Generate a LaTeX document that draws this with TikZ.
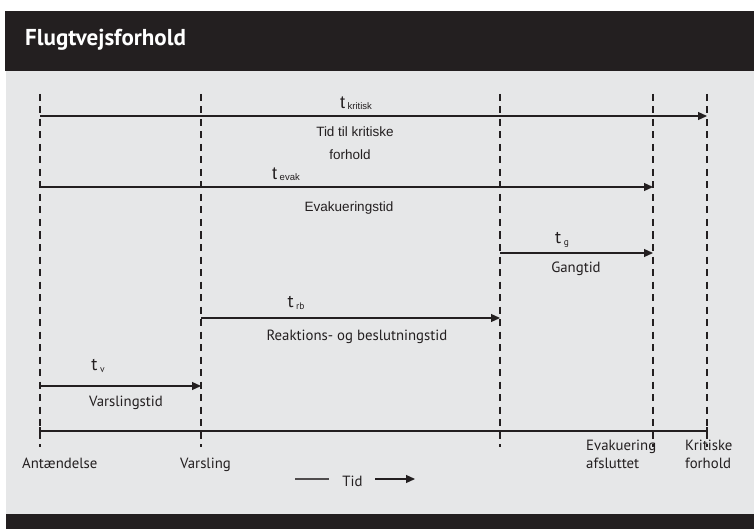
\documentclass[tikz,border=0pt]{standalone}
\usepackage{fontspec}
\setmainfont{Liberation Sans}
\newfontfamily\fru{PT Sans}
\usetikzlibrary{arrows.meta}
\definecolor{ink}{HTML}{231F20}
\definecolor{bg}{HTML}{E6E7E8}
\tikzset{
  dashline/.style={draw=ink, line width=2pt, dash pattern=on 7pt off 5.5pt},
  arr/.style={draw=ink, line width=1.2pt, -{Triangle[length=9pt,width=8pt]}},
  axisline/.style={draw=ink, line width=2pt},
  lbl/.style={inner sep=0pt, text=ink, font=\fontsize{13.5}{16}\selectfont},
  flbl/.style={inner sep=0pt, text=ink, font=\fru\fontsize{14.8}{17}\selectfont},
  tlbl/.style={inner sep=0pt, text=ink},
  endlbl/.style={inner sep=0pt, text=ink, anchor=base west, align=left, font=\fru\fontsize{14.8}{18.5}\selectfont},
}
\newcommand{\tsub}[2]{{\fontsize{18}{18}\selectfont t}\hspace{2.5pt}\raisebox{-1.5pt}{\fontsize{#2}{9}\selectfont #1}}
\begin{document}
\begin{tikzpicture}[x=1pt,y=-1pt]
\useasboundingbox (0,0) rectangle (754,529);
\fill[white] (0,0) rectangle (754,529);
\fill[ink] (5,11) rectangle (754,71);
\fill[bg] (6,71) rectangle (754,514);
\fill[ink] (6,514) rectangle (754,529);
\node[anchor=base west, inner sep=0pt, text=white, font=\fru\bfseries\fontsize{23}{28}\selectfont] (title) at (25,46) {Flugtvejsforhold};

% dashed event lines
\foreach \n/\x in {a/40,b/201,c/500,d/653,e/707}{
  \coordinate (\n top) at (\x,94);
  \coordinate (\n bot) at (\x,447);
  \draw[dashline] (\n top) -- (\n bot);
}

% arrow endpoints
\coordinate (k0) at (40,116);  \coordinate (k1) at (707,116);
\coordinate (e0) at (40,187);  \coordinate (e1) at (653,187);
\coordinate (g0) at (500,253); \coordinate (g1) at (653,253);
\coordinate (r0) at (201,318); \coordinate (r1) at (500,318);
\coordinate (v0) at (40,386);  \coordinate (v1) at (201,386);
\coordinate (x0) at (40,431);  \coordinate (x1) at (707,431);

\draw[arr] (k0) -- (k1);
\draw[arr] (e0) -- (e1);
\draw[arr] (g0) -- (g1);
\draw[arr] (r0) -- (r1);
\draw[arr] (v0) -- (v1);
\draw[axisline] (x0) -- (x1);
\draw[axisline] ([yshift=-4pt]x0) -- ([yshift=4pt]x0);
\draw[axisline] ([yshift=-4pt]x1) -- ([yshift=4pt]x1);

% labels above/below arrows
\node[tlbl] (tk) at (356,103) {\tsub{kritisk}{9.5}};
\node[lbl] (tkt1) at (355,132) {Tid til kritiske};
\node[lbl] (tkt2) at (350,155) {forhold};
\node[tlbl] (te) at (286,174) {\tsub{evak}{9.5}};
\node[lbl] (tet) at (349,208) {Evakueringstid};
\node[tlbl, font=\fru] (tg) at (562,240) {\tsub{g}{9.5}};
\node[flbl] (tgt) at (576,269) {Gangtid};
\node[tlbl, font=\fru] (tr) at (296,303) {\tsub{rb}{9.5}};
\node[flbl] (trt) at (357,337) {Reaktions- og beslutningstid};
\node[tlbl, font=\fru] (tv) at (98,366) {\tsub{v}{9.5}};
\node[flbl] (tvt) at (126,403) {Varslingstid};

% event names
\node[endlbl] (n1) at (22,468.5) {Antændelse};
\node[endlbl] (n2) at (180,468.5) {Varsling};
\node[endlbl] (n3) at (586,468.5) {Evakuering\\afsluttet};
\node[endlbl] (n4) at (685,468.5) {Kritiske\\forhold};

% time legend
\coordinate (l0) at (295,479); \coordinate (l1) at (329,479);
\coordinate (l2) at (375,479); \coordinate (l3) at (415,479);
\draw[draw=ink!80, line width=1.2pt] (l0) -- (l1);
\node[flbl] (tid) at (352.5,481) {Tid};
\draw[arr] (l2) -- (l3);
\end{tikzpicture}
\end{document}
